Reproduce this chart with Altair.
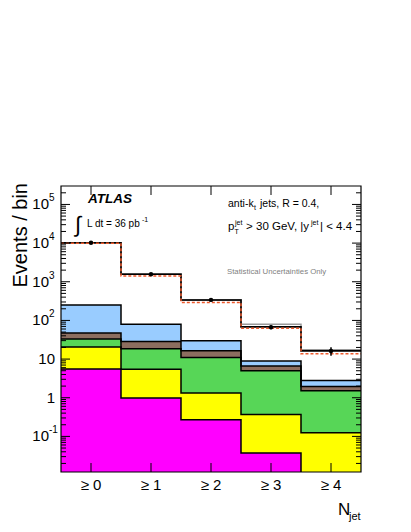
import altair as alt
import pandas as pd

# ---------------- data ----------------
bins = [0, 1, 2, 3, 4]
x_tick_labels = ["≥ 0", "≥ 1", "≥ 2", "≥ 3", "≥ 4"]
layer_names = ["magenta", "yellow", "green", "brown", "blue", "white"]
layer_colors = ["#ff00ff", "#ffff00", "#57d657", "#8c6e5f", "#99ccff", "#ffffff"]
magenta = [5.5, 0.98, 0.27, 0.037, 0.004]
yellow = [14.9, 4.5, 1.05, 0.33, 0.12]
green = [12.6, 12.9, 9.7, 4.6, 1.4]
brown = [14.0, 10.0, 5.4, 1.7, 0.44]
blue = [205.0, 51.6, 13.2, 2.3, 0.84]
white = [9950.0, 1483.0, 309.0, 60.0, 13.6]
gray_pred = [10200.0, 1563.0, 339.0, 80.0, 17.4]
red_pred = [9900.0, 1413.0, 292.0, 63.0, 13.7]
data_vals = [10250.0, 1560.0, 340.0, 67.0, 16.2]
data_err = [101.0, 39.0, 18.0, 8.2, 4.0]
y_major = [0.1, 1, 10, 100, 1000, 10000, 100000]
y_tick_base = ["10", "1", "10", "10", "10", "10", "10"]
y_tick_exp = ["-1", "", "", "2", "3", "4", "5"]
y_minor = [k * 10.0 ** e for e in range(-2, 6) for k in range(2, 10)]

W, H = 300, 286
YMIN, YMAX = 0.012, 3.0e5
y_minor = [v for v in y_minor if YMIN < v < YMAX]

# ---------------- tables ----------------
layers = [magenta, yellow, green, brown, blue, white]
rect_rows, line_rows = [], []
cum = [0.0] * 5
edges = [b - 0.5 for b in bins] + [bins[-1] + 0.5]
for name, vals in zip(layer_names, layers):
    for i, b in enumerate(bins):
        lo = cum[i]
        hi = cum[i] + vals[i]
        rect_rows.append({"layer": name, "x0": b - 0.5, "x1": b + 0.5,
                          "y0": max(lo, 1e-5), "y1": hi})
        cum[i] = hi
    tops = cum + [cum[-1]]
    for e, t in zip(edges, tops):
        line_rows.append({"layer": name, "x": e, "y": t})
rect_df = pd.DataFrame(rect_rows)
line_df = pd.DataFrame(line_rows)


def step_df(vals):
    return pd.DataFrame({"x": edges, "y": list(vals) + [vals[-1]]})


pts_df = pd.DataFrame({"x": bins, "y": data_vals,
                       "lo": [v - e for v, e in zip(data_vals, data_err)],
                       "hi": [v + e for v, e in zip(data_vals, data_err)]})

xscale = alt.Scale(domain=[-0.5, 4.5], nice=False, zero=False)
yscale = alt.Scale(type="log", domain=[YMIN, YMAX], nice=False)
FONT = "Liberation Sans"


def X(f):
    return alt.X(f, scale=xscale, axis=None)


def Y(f):
    return alt.Y(f, scale=yscale, axis=None)


rects = alt.Chart(rect_df).mark_rect(clip=True, strokeWidth=0).encode(
    x=X("x0:Q"), x2="x1:Q", y=Y("y0:Q"), y2="y1:Q",
    color=alt.Color("layer:N", scale=alt.Scale(domain=layer_names, range=layer_colors),
                    legend=None),
)

outlines = alt.Chart(line_df).mark_line(interpolate="step-after", clip=True,
                                        color="black", strokeWidth=1.5).encode(
    x=X("x:Q"), y=Y("y:Q"), detail="layer:N")

gray_line = alt.Chart(step_df(gray_pred)).mark_line(
    interpolate="step-after", clip=True, color="#9a9a9a", strokeWidth=1.5).encode(
    x=X("x:Q"), y=Y("y:Q"))

total_line = alt.Chart(step_df(cum)).mark_line(
    interpolate="step-after", clip=True, color="black", strokeWidth=1.5).encode(
    x=X("x:Q"), y=Y("y:Q"))

red_line = alt.Chart(step_df(red_pred)).mark_line(
    interpolate="step-after", clip=True, color="#ee5a2c", strokeWidth=1.5,
    strokeDash=[3, 2]).encode(x=X("x:Q"), y=Y("y:Q"))

errbars = alt.Chart(pts_df).mark_rule(color="black", strokeWidth=1.5, clip=True).encode(
    x=X("x:Q"), y=Y("lo:Q"), y2="hi:Q")

points = alt.Chart(pts_df).mark_circle(color="black", size=20, opacity=1).encode(
    x=X("x:Q"), y=Y("y:Q"))

# inward ticks
maj_df = pd.DataFrame({"v": y_major, "base": y_tick_base, "exp": y_tick_exp})
min_df = pd.DataFrame({"v": y_minor})
xt_df = pd.DataFrame({"v": bins, "lab": x_tick_labels})


def ytick(df, x0, x1):
    return alt.Chart(df).mark_rule(color="black", strokeWidth=1).encode(
        x=alt.value(x0), x2=alt.value(x1), y=Y("v:Q"))


def xtick(y0, y1):
    return alt.Chart(xt_df).mark_rule(color="black", strokeWidth=1).encode(
        x=X("v:Q"), y=alt.value(y0), y2=alt.value(y1))


ticks = [ytick(maj_df, 0, 9), ytick(min_df, 0, 5),
         ytick(maj_df, W - 9, W), ytick(min_df, W - 5, W),
         xtick(H, H - 9), xtick(0, 9)]

# tick labels
ylab_plain = alt.Chart(maj_df).transform_filter("datum.exp == ''").mark_text(
    align="right", baseline="middle", font=FONT, fontSize=15, color="black").encode(
    x=alt.value(-6), y=Y("v:Q"), text="base:N")
ylab_base = alt.Chart(maj_df).transform_filter("datum.exp != ''").mark_text(
    align="right", baseline="middle", font=FONT, fontSize=15, color="black").encode(
    x=alt.value(-12), y=Y("v:Q"), text="base:N")
ylab_exp = alt.Chart(maj_df).transform_filter("datum.exp != ''").mark_text(
    align="left", baseline="middle", font=FONT, fontSize=10, color="black", dy=-6).encode(
    x=alt.value(-12), y=Y("v:Q"), text="exp:N")
xlab = alt.Chart(xt_df).mark_text(
    align="center", baseline="middle", font=FONT, fontSize=15, color="black").encode(
    x=X("v:Q"), y=alt.value(H + 13), text="lab:N")

one = pd.DataFrame({"a": [0]})
frame = alt.Chart(one).mark_rect(fill=None, stroke="black", strokeWidth=1.2).encode(
    x=alt.value(0), x2=alt.value(W), y=alt.value(0), y2=alt.value(H))


def txt(s, x, y, size, **kw):
    params = dict(align="left", baseline="alphabetic", font=FONT, fontSize=size,
                  color="black")
    params.update(kw)
    return alt.Chart(one).mark_text(text=s, **params).encode(
        x=alt.value(x), y=alt.value(y))


annots = [
    txt("ATLAS", 27, 17, 13.5, fontWeight="bold", fontStyle="italic"),
    txt("∫", 14, 46, 22),
    txt("L dt = 36 pb", 26, 41, 10),
    txt("-1", 81, 36, 7),
    txt("anti-k", 167, 20.5, 10.5),
    txt("t", 193, 23.5, 7),
    txt("jets, R = 0.4,", 199, 20.5, 10.5),
    txt("p", 167, 44, 11.5),
    txt("T", 173.5, 47.5, 7),
    txt("jet", 174, 38.5, 7),
    txt(">", 185, 44, 11.5),
    txt("30 GeV, |y", 195, 44, 11.5),
    txt("jet", 250, 38.5, 7),
    txt("| < 4.4", 259, 44, 11.5),
    txt("Statistical Uncertainties Only", 166, 87.5, 7.8, color="#7f7f7f"),
    txt("Events / bin", -34, -3, 20, angle=270, align="right"),
    txt("N", 277, 329, 17),
    txt("jet", 288, 334, 11),
]

chart = alt.layer(rects, outlines, gray_line, total_line, red_line, errbars, points,
                  *ticks, frame, ylab_plain, ylab_base, ylab_exp, xlab,
                  *annots).properties(
    width=W, height=H,
    autosize=alt.AutoSizeParams(type="none"),
    padding={"left": 53, "top": 178, "right": 30, "bottom": 50},
).configure_view(stroke=None)

chart.save("out.html", embed_options={"renderer": "svg", "actions": False})
